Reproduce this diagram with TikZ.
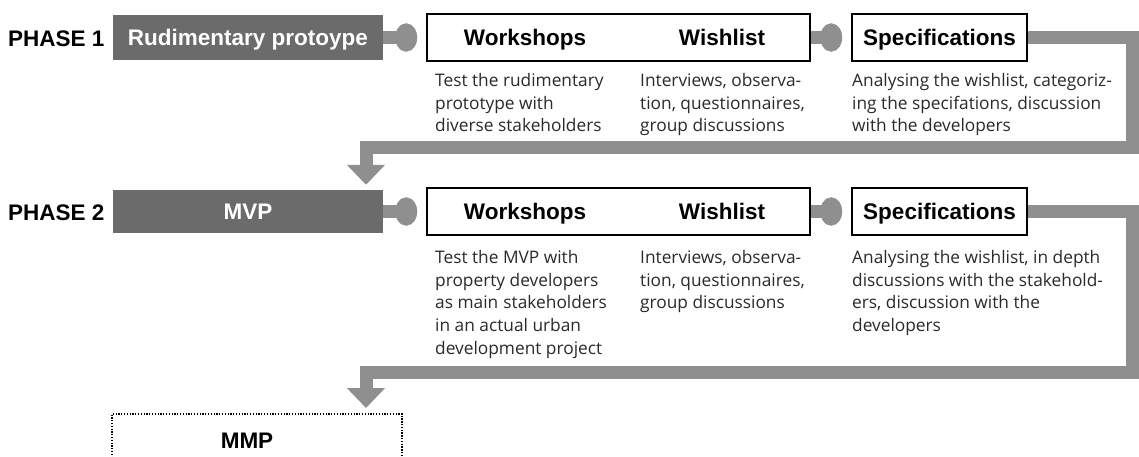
\documentclass[tikz,border=0pt]{standalone}
\usepackage{fontspec}
\newfontfamily\titlefont{Liberation Sans}
\newfontfamily\descfont{Open Sans}
\usetikzlibrary{arrows.meta}
\definecolor{boxgray}{HTML}{6B6B6B}
\definecolor{conngray}{HTML}{8F8F8F}
\definecolor{desctext}{HTML}{2A2A2A}
\tikzset{
  title/.style={font=\titlefont\bfseries\fontsize{22.5}{26}\selectfont, inner sep=0pt, text height=16pt, text depth=0pt},
  darkbox/.style={title, fill=boxgray, text=white, minimum width=270pt, minimum height=45pt},
  whitebox/.style={draw=black, line width=1.6pt, fill=white, minimum height=47pt},
  desc/.style={font=\descfont\fontsize{17.3}{22.7}\selectfont, text=desctext, align=left, anchor=north west, inner sep=0pt},
  bulb/.style={draw=conngray, line width=13pt, -{Circle[length=22pt,width=28pt]}, shorten >=9pt},
  ret/.style={draw=conngray, line width=13pt, line join=miter, -{Triangle[length=20pt,width=37pt]}, shorten >=5pt},
  mmpbox/.style={draw=black, line width=1.5pt, dash pattern=on 1.3pt off 1.5pt, minimum width=290pt, minimum height=80pt}
}
\begin{document}
\begin{tikzpicture}[x=1pt,y=-1pt]
\useasboundingbox (0,0) rectangle (1139,456);
\clip (0,0) rectangle (1139,456);
\fill[white] (0,0) rectangle (1139,456);

% ---- Phase 1
\node[title, anchor=west] (ph1) at (8,38) {PHASE 1};
\node[darkbox] (proto) at (248,37.5) {Rudimentary protoype};
\node[whitebox, minimum width=383pt] (ws1) at (618.5,37.5) {};
\node[title] (ws1a) at (525,37.5) {Workshops};
\node[title] (ws1b) at (722,37.5) {Wishlist};
\node[whitebox, minimum width=175pt, title] (spec1) at (939.5,37.5) {Specifications};

\node[desc] (d1a) at (435,73) {Test the rudimentary\\prototype with\\diverse stakeholders};
\node[desc] (d1b) at (640,73) {Interviews, observa-\\tion, questionnaires,\\group discussions};
\node[desc] (d1c) at (852,73) {Analysing the wishlist, categoriz-\\ing the specifations, discussion\\with the developers};

% ---- Phase 2
\node[title, anchor=west] (ph2) at (8,212) {PHASE 2};
\node[darkbox, minimum height=43pt] (mvp) at (248,211.5) {MVP};
\node[whitebox, minimum width=383pt] (ws2) at (618.5,211.5) {};
\node[title] (ws2a) at (525,211.5) {Workshops};
\node[title] (ws2b) at (722,211.5) {Wishlist};
\node[whitebox, minimum width=175pt, title] (spec2) at (939.5,211.5) {Specifications};

\node[desc] (d2a) at (435,250) {Test the MVP with\\property developers\\as main\hspace{0.3em}stakeholders\\in an actual urban\\development project};
\node[desc] (d2b) at (640,250) {Interviews, observa-\\tion, questionnaires,\\group discussions};
\node[desc] (d2c) at (852,250) {Analysing the wishlist, in depth\\discussions with the stakehold-\\ers, discussion with the\\developers};

% ---- MMP
\node[mmpbox, anchor=north] (mmp) at (257,413) {};
\node[title] (mmpt) at (247,440) {MMP};

% ---- connectors
\draw[bulb] (proto.east) -- (ws1.west);
\draw[bulb] (ws1.east) -- (spec1.west);
\draw[bulb] (mvp.east) -- (ws2.west);
\draw[bulb] (ws2.east) -- (spec2.west);

\coordinate (r1) at (1132,37.5);
\coordinate (b1) at (366,147);
\draw[ret] (spec1.east) -- (r1) |- (b1) -- (b1 |- mvp.north);

\coordinate (r2) at (1132,211.5);
\coordinate (b2) at (366,372);
\draw[ret] (spec2.east) -- (r2) |- (b2) -- (b2 |- mmp.north);
\end{tikzpicture}
\end{document}
